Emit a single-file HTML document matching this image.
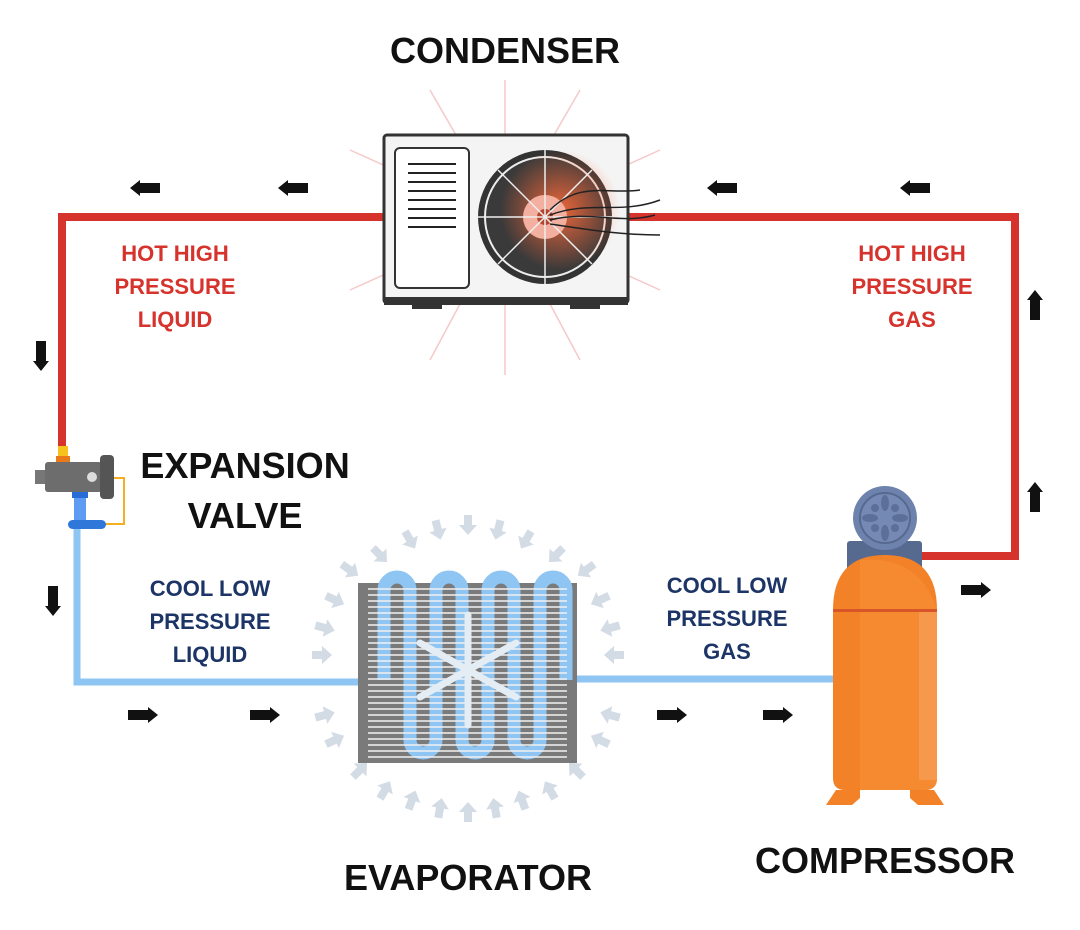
<!DOCTYPE html>
<html><head><meta charset="utf-8"><style>
html,body{margin:0;padding:0;background:#fff;}
svg{display:block}
.t{font-family:"Liberation Sans",sans-serif;font-weight:bold;text-anchor:middle}
</style></head><body>
<svg width="1080" height="930" viewBox="0 0 1080 930">
<defs>
<g id="ar"><path d="M-15,-5 L5,-5 L5,-8 L15,0 L5,8 L5,5 L-15,5 Z" fill="#111"/></g>
<g id="ga"><path d="M-4,-10 L4,-10 L4,0 L9,0 L0,10 L-9,0 L-4,0Z" fill="#d3dbe5"/></g>
<radialGradient id="glow" cx="0.5" cy="0.5" r="0.5"><stop offset="0" stop-color="#ff6a3a" stop-opacity=".9"/><stop offset="1" stop-color="#ff6a3a" stop-opacity="0"/></radialGradient>
</defs>
<g stroke="#f6c9c9" stroke-width="1.5">
<line x1="505" y1="220" x2="505" y2="80"/><line x1="505" y1="220" x2="505" y2="375"/>
<line x1="505" y1="220" x2="430" y2="90"/><line x1="505" y1="220" x2="580" y2="90"/>
<line x1="505" y1="220" x2="430" y2="360"/><line x1="505" y1="220" x2="580" y2="360"/>
<line x1="505" y1="220" x2="660" y2="150"/><line x1="505" y1="220" x2="660" y2="290"/>
<line x1="505" y1="220" x2="350" y2="150"/><line x1="505" y1="220" x2="350" y2="290"/>
</g>
<path d="M62,455 L62,217 L1015,217 L1015,556 L915,556" fill="none" stroke="#d7332d" stroke-width="8"/>
<path d="M77,525 L77,682 L360,682" fill="none" stroke="#8ec5f3" stroke-width="7"/>
<path d="M575,679 L835,679" fill="none" stroke="#8ec5f3" stroke-width="7"/>
<rect x="384" y="135" width="244" height="168" rx="3" fill="#f4f4f4" stroke="#333" stroke-width="3"/>
<rect x="395" y="148" width="74" height="140" rx="5" fill="#fff" stroke="#333" stroke-width="2"/>
<g stroke="#222" stroke-width="2">
<line x1="408" y1="164" x2="456" y2="164"/><line x1="408" y1="173" x2="456" y2="173"/><line x1="408" y1="182" x2="456" y2="182"/><line x1="408" y1="191" x2="456" y2="191"/><line x1="408" y1="200" x2="456" y2="200"/><line x1="408" y1="209" x2="456" y2="209"/><line x1="408" y1="218" x2="456" y2="218"/><line x1="408" y1="227" x2="456" y2="227"/>
</g>
<rect x="384" y="297" width="244" height="8" fill="#333"/>
<rect x="412" y="303" width="30" height="6" fill="#333"/><rect x="570" y="303" width="30" height="6" fill="#333"/>
<circle cx="545" cy="217" r="67" fill="#333"/>
<circle cx="545" cy="217" r="60" fill="#3a3a3a" stroke="#eee" stroke-width="2"/>
<circle cx="560" cy="210" r="60" fill="url(#glow)"/>
<circle cx="545" cy="217" r="22" fill="#f3b0a0"/>
<circle cx="545" cy="217" r="8" fill="#b5462e"/>
<g stroke="#eee" stroke-width="1.5"><line x1="545" y1="150" x2="545" y2="284"/><line x1="478" y1="217" x2="612" y2="217"/><line x1="498" y1="170" x2="592" y2="264"/><line x1="592" y1="170" x2="498" y2="264"/></g>
<g fill="none" stroke="#222" stroke-width="1.5"><path d="M550,210 C580,180 610,195 640,190"/><path d="M550,215 C590,200 620,215 660,200"/><path d="M550,220 C590,210 620,225 655,215"/><path d="M550,224 C590,230 620,235 660,235"/></g>
<g>
<use href="#ga" transform="translate(468,525)"/>
<use href="#ga" transform="translate(438,530) rotate(-15)"/><use href="#ga" transform="translate(498,530) rotate(15)"/>
<use href="#ga" transform="translate(410,540) rotate(-30)"/><use href="#ga" transform="translate(526,540) rotate(30)"/>
<use href="#ga" transform="translate(380,555) rotate(-45)"/><use href="#ga" transform="translate(556,555) rotate(45)"/>
<use href="#ga" transform="translate(350,570) rotate(-55)"/><use href="#ga" transform="translate(586,570) rotate(55)"/>
<use href="#ga" transform="translate(335,600) rotate(-65)"/><use href="#ga" transform="translate(600,600) rotate(65)"/>
<use href="#ga" transform="translate(325,628) rotate(-75)"/><use href="#ga" transform="translate(610,628) rotate(75)"/>
<use href="#ga" transform="translate(322,655) rotate(-90)"/><use href="#ga" transform="translate(614,655) rotate(90)"/>
<use href="#ga" transform="translate(325,715) rotate(-105)"/><use href="#ga" transform="translate(610,715) rotate(105)"/>
<use href="#ga" transform="translate(335,740) rotate(-115)"/><use href="#ga" transform="translate(600,740) rotate(115)"/>
<use href="#ga" transform="translate(360,770) rotate(-135)"/><use href="#ga" transform="translate(576,770) rotate(135)"/>
<use href="#ga" transform="translate(385,790) rotate(-150)"/><use href="#ga" transform="translate(550,790) rotate(150)"/>
<use href="#ga" transform="translate(412,800) rotate(-160)"/><use href="#ga" transform="translate(522,800) rotate(160)"/>
<use href="#ga" transform="translate(440,808) rotate(-170)"/><use href="#ga" transform="translate(495,808) rotate(170)"/>
<use href="#ga" transform="translate(468,812) rotate(180)"/>
</g>
<rect x="358" y="583" width="219" height="180" fill="#7a7a7a"/>
<g fill="none" stroke="#8ec5f3" stroke-width="13">
<path d="M384,680 L384,590 a13,13 0 0 1 26,0 L410,740 a13,13 0 0 0 26,0 L436,590 a13,13 0 0 1 26,0 L462,740 a13,13 0 0 0 26,0 L488,590 a13,13 0 0 1 26,0 L514,740 a13,13 0 0 0 26,0 L540,590 a13,13 0 0 1 26,0 L566,680"/>
</g>
<g stroke="#f2f2f2" stroke-width="1.6">
<line x1="368" y1="589" x2="567" y2="589"/><line x1="368" y1="595" x2="567" y2="595"/><line x1="368" y1="601" x2="567" y2="601"/><line x1="368" y1="607" x2="567" y2="607"/><line x1="368" y1="613" x2="567" y2="613"/><line x1="368" y1="619" x2="567" y2="619"/><line x1="368" y1="625" x2="567" y2="625"/><line x1="368" y1="631" x2="567" y2="631"/><line x1="368" y1="637" x2="567" y2="637"/><line x1="368" y1="643" x2="567" y2="643"/><line x1="368" y1="649" x2="567" y2="649"/><line x1="368" y1="655" x2="567" y2="655"/><line x1="368" y1="661" x2="567" y2="661"/><line x1="368" y1="667" x2="567" y2="667"/><line x1="368" y1="673" x2="567" y2="673"/><line x1="368" y1="679" x2="567" y2="679"/><line x1="368" y1="685" x2="567" y2="685"/><line x1="368" y1="691" x2="567" y2="691"/><line x1="368" y1="697" x2="567" y2="697"/><line x1="368" y1="703" x2="567" y2="703"/><line x1="368" y1="709" x2="567" y2="709"/><line x1="368" y1="715" x2="567" y2="715"/><line x1="368" y1="721" x2="567" y2="721"/><line x1="368" y1="727" x2="567" y2="727"/><line x1="368" y1="733" x2="567" y2="733"/><line x1="368" y1="739" x2="567" y2="739"/><line x1="368" y1="745" x2="567" y2="745"/><line x1="368" y1="751" x2="567" y2="751"/><line x1="368" y1="757" x2="567" y2="757"/>
</g>
<g stroke="#e4ecf4" stroke-width="7" stroke-linecap="round">
<line x1="468" y1="615" x2="468" y2="725"/><line x1="420" y1="643" x2="516" y2="697"/><line x1="420" y1="697" x2="516" y2="643"/>
</g>
<rect x="58" y="446" width="10" height="12" fill="#f7c21b"/>
<rect x="56" y="456" width="14" height="6" fill="#e87a1a"/>
<rect x="35" y="470" width="12" height="14" fill="#777"/>
<rect x="45" y="462" width="57" height="30" rx="3" fill="#6d6d6d"/>
<rect x="100" y="455" width="14" height="44" rx="4" fill="#555"/>
<circle cx="92" cy="477" r="5" fill="#ddd"/>
<rect x="72" y="492" width="16" height="6" fill="#2a6cd6"/>
<rect x="74" y="498" width="12" height="22" fill="#5d9cf0"/>
<path d="M114,478 L124,478 L124,524 L105,524" fill="none" stroke="#f5b022" stroke-width="2"/>
<rect x="68" y="520" width="38" height="9" rx="4.5" fill="#2f78da"/>
<rect x="847" y="541" width="75" height="30" rx="3" fill="#56698f"/>
<circle cx="885" cy="518" r="32" fill="#6d82ad"/>
<circle cx="885" cy="518" r="25" fill="#7489b4" stroke="#56698f" stroke-width="2"/>
<g fill="#5b6f98"><ellipse cx="885" cy="503" rx="4" ry="8"/><ellipse cx="885" cy="533" rx="4" ry="8"/><ellipse cx="870" cy="518" rx="8" ry="4"/><ellipse cx="900" cy="518" rx="8" ry="4"/><circle cx="875" cy="508" r="4"/><circle cx="895" cy="508" r="4"/><circle cx="875" cy="528" r="4"/><circle cx="895" cy="528" r="4"/></g>
<path d="M833,610 Q833,555 885,555 Q937,555 937,610 L937,778 Q937,790 925,790 L845,790 Q833,790 833,778 Z" fill="#f38127"/>
<path d="M860,560 Q920,555 937,610 L937,778 Q937,790 925,790 L860,790 Z" fill="#f58a30"/>
<rect x="919" y="610" width="18" height="170" fill="#f6994c"/>
<rect x="833" y="609" width="104" height="3" fill="#d8552a"/>
<path d="M836,790 L860,790 L860,798 L852,805 L826,805 Z" fill="#f38127"/>
<path d="M910,790 L934,790 L944,805 L918,805 L910,798 Z" fill="#f38127"/>
<use href="#ar" transform="translate(145,188) rotate(180)"/>
<use href="#ar" transform="translate(293,188) rotate(180)"/>
<use href="#ar" transform="translate(722,188) rotate(180)"/>
<use href="#ar" transform="translate(915,188) rotate(180)"/>
<use href="#ar" transform="translate(1035,305) rotate(-90)"/>
<use href="#ar" transform="translate(1035,497) rotate(-90)"/>
<use href="#ar" transform="translate(41,356) rotate(90)"/>
<use href="#ar" transform="translate(53,601) rotate(90)"/>
<use href="#ar" transform="translate(143,715)"/>
<use href="#ar" transform="translate(265,715)"/>
<use href="#ar" transform="translate(672,715)"/>
<use href="#ar" transform="translate(778,715)"/>
<use href="#ar" transform="translate(976,590)"/>
<g class="t" fill="#111" font-size="36">
<text x="505" y="63">CONDENSER</text>
<text x="468" y="890">EVAPORATOR</text>
<text x="885" y="873">COMPRESSOR</text>
<text x="245" y="478">EXPANSION</text>
<text x="245" y="528">VALVE</text>
</g>
<g class="t" fill="#d7332d" font-size="22">
<text x="175" y="261">HOT HIGH</text><text x="175" y="294">PRESSURE</text><text x="175" y="327">LIQUID</text>
<text x="912" y="261">HOT HIGH</text><text x="912" y="294">PRESSURE</text><text x="912" y="327">GAS</text>
</g>
<g class="t" fill="#1c3566" font-size="22">
<text x="210" y="596">COOL LOW</text><text x="210" y="629">PRESSURE</text><text x="210" y="662">LIQUID</text>
<text x="727" y="593">COOL LOW</text><text x="727" y="626">PRESSURE</text><text x="727" y="659">GAS</text>
</g>
</svg>
</body></html>
